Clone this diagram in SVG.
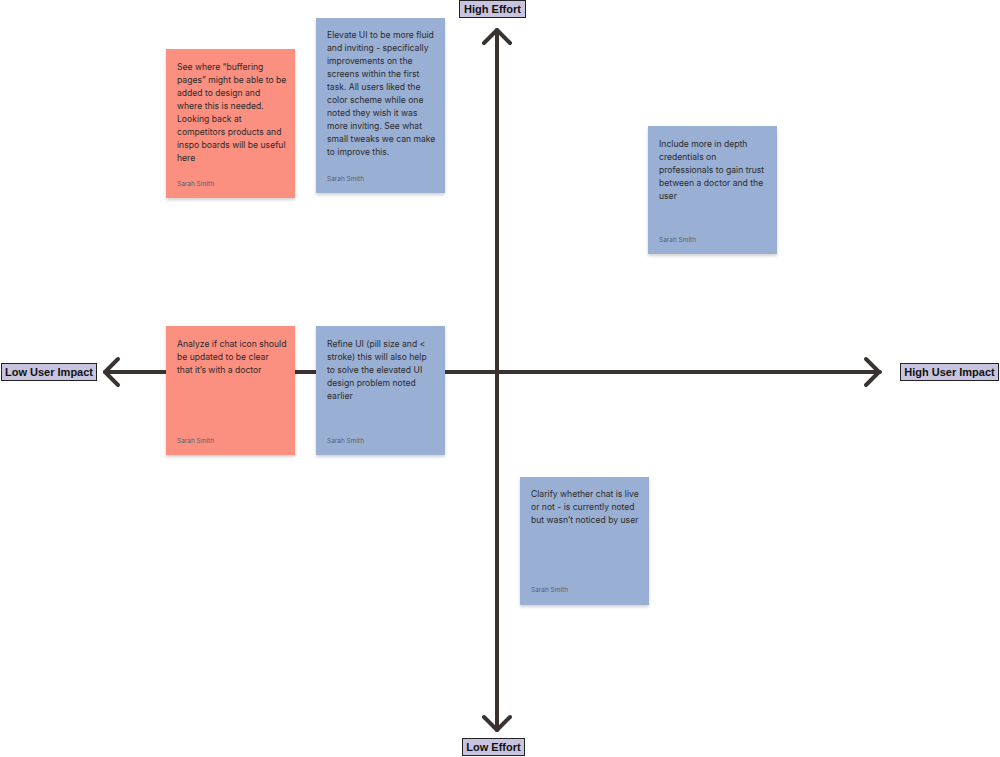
<svg xmlns="http://www.w3.org/2000/svg" width="1000" height="757" viewBox="0 0 1000 757">
<defs>
<filter id="sh" x="-10%" y="-10%" width="120%" height="125%">
<feDropShadow dx="0" dy="2" stdDeviation="1.5" flood-color="#000" flood-opacity="0.18"/>
</filter>
</defs>
<style>
.axis{stroke:#3a3131;stroke-width:4;fill:none;stroke-linecap:round;stroke-linejoin:round}
.red{fill:#fb8f80;filter:url(#sh)}
.blue{fill:#9aafd4;filter:url(#sh)}
.t{font-family:Inter,"Noto Sans",sans-serif;font-size:8.6px;fill:#2b2b2b}
.a{font-family:Inter,"Noto Sans",sans-serif;font-size:6.5px;fill:#5f5f6a}
.lb{fill:#c8c4df;stroke:#222;stroke-width:1}
.lt{font-family:"Liberation Sans",Arial,sans-serif;font-weight:bold;font-size:11px;fill:#111;text-anchor:middle}
</style>
<rect width="1000" height="757" fill="#fff"/>
<g id="connectors">
<path class="axis" d="M497 30 V730"/>
<path class="axis" d="M484 43 L497 30 L510 43"/>
<path class="axis" d="M484 717 L497 730 L510 717"/>
<path class="axis" d="M105 372 H880"/>
<path class="axis" d="M118 359 L105 372 L118 385"/>
<path class="axis" d="M866 359 L879 372 L866 385"/>
</g>
<g id="label-high-effort">
<rect class="lb" x="459.5" y="0.5" width="66" height="17"/>
<text class="lt" x="492.5" y="13">High Effort</text>
</g>
<g id="label-low-effort">
<rect class="lb" x="462.5" y="738.5" width="62" height="17"/>
<text class="lt" x="493.5" y="751">Low Effort</text>
</g>
<g id="label-low-impact">
<rect class="lb" x="1.5" y="363.5" width="95" height="17"/>
<text class="lt" x="49" y="376">Low User Impact</text>
</g>
<g id="label-high-impact">
<rect class="lb" x="900.5" y="363.5" width="98" height="17"/>
<text class="lt" x="949.5" y="376">High User Impact</text>
</g>
<g id="note-buffering">
<rect class="red" x="166" y="49" width="129" height="149"/>
<text class="t" x="177" y="70"><tspan x="177">See where “buffering</tspan><tspan x="177" dy="13">pages” might be able to be</tspan><tspan x="177" dy="13">added to design and</tspan><tspan x="177" dy="13">where this is needed.</tspan><tspan x="177" dy="13">Looking back at</tspan><tspan x="177" dy="13">competitors products and</tspan><tspan x="177" dy="13">inspo boards will be useful</tspan><tspan x="177" dy="13">here</tspan></text>
<text class="a" x="177" y="186">Sarah Smith</text>
</g>
<g id="note-elevate">
<rect class="blue" x="316" y="18" width="129" height="175"/>
<text class="t" x="327" y="38"><tspan x="327">Elevate UI to be more fluid</tspan><tspan x="327" dy="13">and inviting - specifically</tspan><tspan x="327" dy="13">improvements on the</tspan><tspan x="327" dy="13">screens within the first</tspan><tspan x="327" dy="13">task. All users liked the</tspan><tspan x="327" dy="13">color scheme while one</tspan><tspan x="327" dy="13">noted they wish it was</tspan><tspan x="327" dy="13">more inviting. See what</tspan><tspan x="327" dy="13">small tweaks we can make</tspan><tspan x="327" dy="13">to improve this.</tspan></text>
<text class="a" x="327" y="181">Sarah Smith</text>
</g>
<g id="note-credentials">
<rect class="blue" x="648" y="126" width="129" height="128"/>
<text class="t" x="659" y="147"><tspan x="659">Include more in depth</tspan><tspan x="659" dy="13">credentials on</tspan><tspan x="659" dy="13">professionals to gain trust</tspan><tspan x="659" dy="13">between a doctor and the</tspan><tspan x="659" dy="13">user</tspan></text>
<text class="a" x="659" y="242">Sarah Smith</text>
</g>
<g id="note-chat-icon">
<rect class="red" x="166" y="326" width="129" height="129"/>
<text class="t" x="177" y="347"><tspan x="177">Analyze if chat icon should</tspan><tspan x="177" dy="13">be updated to be clear</tspan><tspan x="177" dy="13">that it’s with a doctor</tspan></text>
<text class="a" x="177" y="443">Sarah Smith</text>
</g>
<g id="note-refine">
<rect class="blue" x="316" y="326" width="129" height="129"/>
<text class="t" x="327" y="347"><tspan x="327">Refine UI (pill size and &lt;</tspan><tspan x="327" dy="13">stroke) this will also help</tspan><tspan x="327" dy="13">to solve the elevated UI</tspan><tspan x="327" dy="13">design problem noted</tspan><tspan x="327" dy="13">earlier</tspan></text>
<text class="a" x="327" y="443">Sarah Smith</text>
</g>
<g id="note-chat-live">
<rect class="blue" x="520" y="477" width="129" height="128"/>
<text class="t" x="531" y="497"><tspan x="531">Clarify whether chat is live</tspan><tspan x="531" dy="13">or not - is currently noted</tspan><tspan x="531" dy="13">but wasn’t noticed by user</tspan></text>
<text class="a" x="531" y="592">Sarah Smith</text>
</g>
</svg>
